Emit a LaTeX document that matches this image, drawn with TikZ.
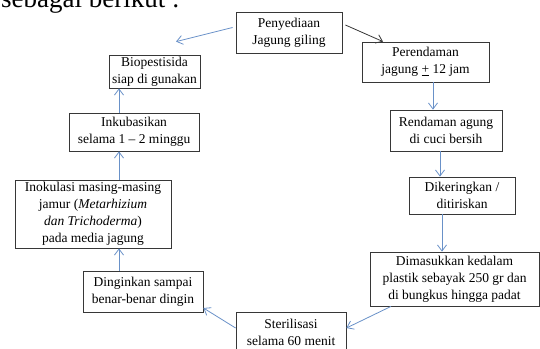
\documentclass[tikz,border=0pt]{standalone}
\usepackage{fontspec}
\setmainfont{Liberation Serif}
\usetikzlibrary{arrows.meta}

\definecolor{flowblue}{RGB}{105,145,200}
\definecolor{boxgray}{RGB}{55,55,55}

\begin{document}
\begin{tikzpicture}[x=1pt,y=-1pt,
  box/.style={draw=boxgray, line width=0.8pt, align=center, inner sep=1pt,
    font=\fontsize{13.5}{17}\selectfont},
  flow/.style={draw=flowblue, line width=0.8pt, -{Straight Barb[length=6pt,width=9pt]}},
  flowdark/.style={flow, draw=boxgray}]
\useasboundingbox (0,0) rectangle (540,348);
\node[anchor=base west, font=\fontsize{27}{30}\selectfont, inner sep=0pt] (head) at (1,7) {sebagai berikut :};
\node[box, minimum width=106pt, minimum height=41pt] (pen) at (289,32.5) {Penyediaan\\Jagung giling};
\node[box, minimum width=127pt, minimum height=40pt] (per) at (425.5,62) {Perendaman\\jagung \underline{+} 12 jam};
\node[box, minimum width=112pt, minimum height=41pt] (ren) at (446,130.5) {Rendaman agung\\di cuci bersih};
\node[box, minimum width=106pt, minimum height=37pt] (dik) at (462,195.5) {Dikeringkan /\\ditiriskan};
\node[box, minimum width=169pt, minimum height=54pt] (dim) at (454.5,279) {Dimasukkan kedalam\\plastik sebayak 250 gr dan\\di bungkus hingga padat};
\node[box, minimum width=110pt, minimum height=40pt] (ste) at (291,332) {Sterilisasi\\selama 60 menit};
\node[box, minimum width=120pt, minimum height=41pt] (din) at (143,291.5) {Dinginkan sampai\\benar-benar dingin};
\node[box, minimum width=156pt, minimum height=68pt] (ino) at (93,214) {Inokulasi masing-masing\\jamur (\textit{Metarhizium}\\\textit{dan Trichoderma})\\pada media jagung};
\node[box, minimum width=130pt, minimum height=38pt] (ink) at (134,132) {Inkubasikan\\selama 1 -- 2 minggu};
\node[box, minimum width=91pt, minimum height=33pt] (bio) at (154.5,71.5) {Biopestisida\\siap di gunakan};

\draw[flowdark] ([xshift=3pt,yshift=7.5pt]pen.east) -- ([xshift=-42.5pt]per.north);
\draw[flow] ([xshift=7.5pt]per.south) -- ([xshift=7.5pt]per.south |- ren.north);
\draw[flow] ([xshift=-6pt]ren.south) -- ([xshift=-6pt]ren.south |- dik.north);
\draw[flow] ([xshift=-20pt]dik.south) -- ([xshift=-20pt]dik.south |- dim.north);
\draw[flow] ([xshift=-63.5pt]dim.south) -- ([yshift=4pt]ste.east);
\draw[flow] ([yshift=4pt]ste.west) -- ([yshift=-16.5pt]din.east);
\draw[flow] ([xshift=-24pt]din.north) -- ([xshift=-24pt]din.north |- ino.south);
\draw[flow] ([xshift=26pt]ino.north) -- ([xshift=26pt]ino.north |- ink.south);
\draw[flow] ([xshift=-15pt]ink.north) -- ([xshift=-15pt]ink.north |- bio.south);
\draw[flow] ([xshift=-3pt,yshift=5pt]pen.west) -- ([xshift=21.5pt,yshift=13pt]bio.north);
\end{tikzpicture}
\end{document}
